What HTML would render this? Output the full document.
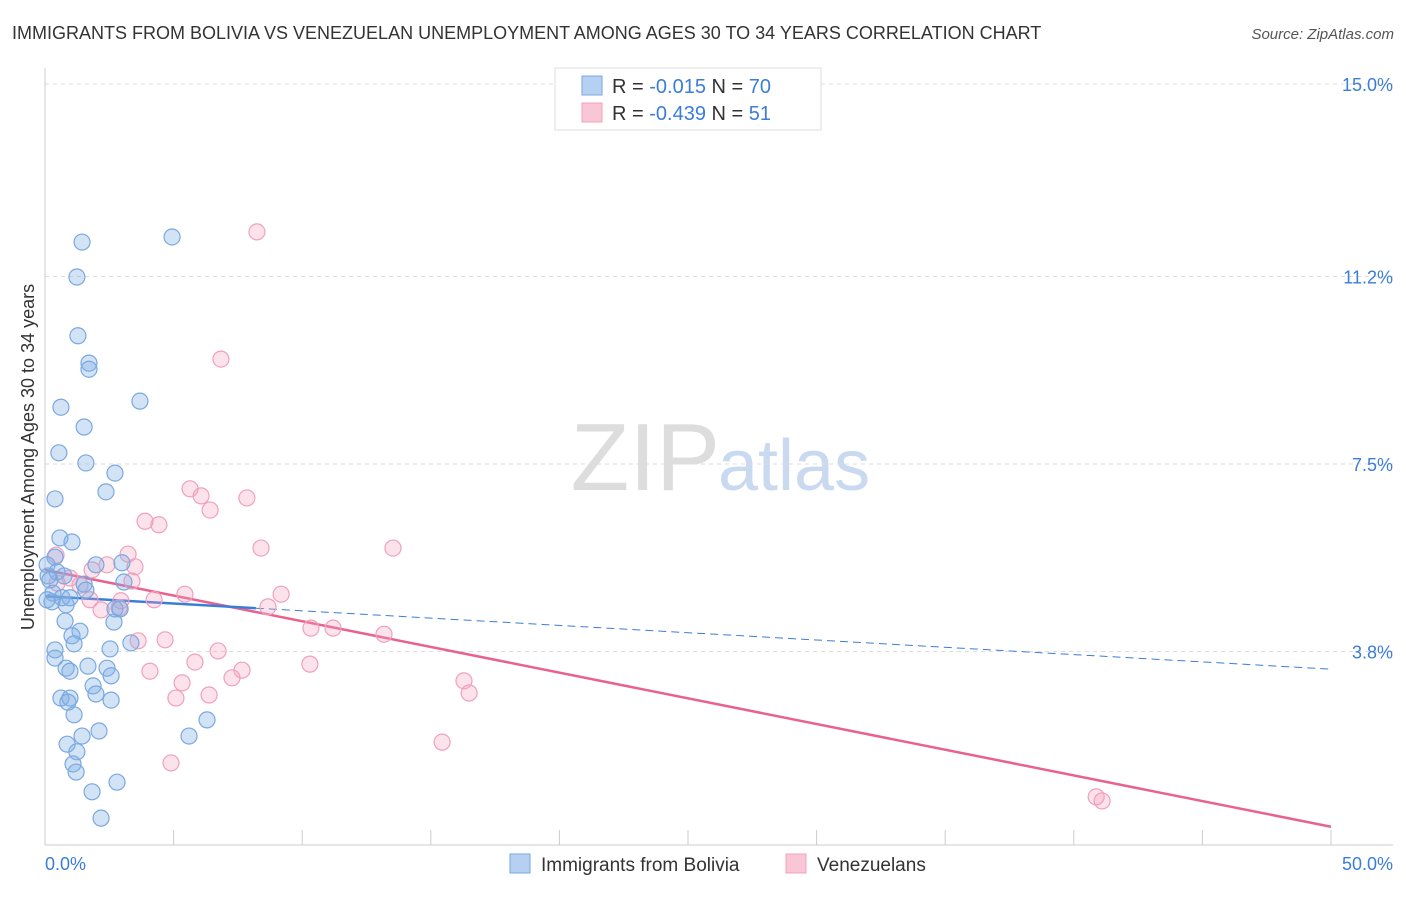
<!DOCTYPE html>
<html><head><meta charset="utf-8"><style>
body{margin:0;background:#fff;font-family:"Liberation Sans",sans-serif;}
svg text{font-family:"Liberation Sans",sans-serif;}
</style></head><body>
<svg id="chart" width="1406" height="892">
<text x="12" y="39" font-size="18" fill="#333">IMMIGRANTS FROM BOLIVIA VS VENEZUELAN UNEMPLOYMENT AMONG AGES 30 TO 34 YEARS CORRELATION CHART</text>
<text x="1394" y="39" font-size="15" fill="#555" font-style="italic" text-anchor="end">Source: ZipAtlas.com</text>
<text x="720" y="490" font-size="96" fill="#ddd" text-anchor="end" font-family="Liberation Serif">ZIP</text>
<text x="718" y="490" font-size="72" fill="#c9daf0">atlas</text>
<text transform="translate(34,457) rotate(-90)" font-size="18" fill="#333" text-anchor="middle">Unemployment Among Ages 30 to 34 years</text>
<g id="grid"></g><g id="axes"></g><g id="trend"></g><g id="pts"></g>
<g>
<rect x="555" y="68" width="266" height="62" fill="#fff" stroke="#ddd"/>
<rect x="582" y="76" width="20" height="19" fill="#b6d0f2" stroke="#7aa8e0"/>
<rect x="582" y="103" width="20" height="19" fill="#f9c6d6" stroke="#f0a0bc"/>
<text x="612" y="93" font-size="20" fill="#333">R = <tspan fill="#3b7dd8">-0.015</tspan>   N = <tspan fill="#3b7dd8">70</tspan></text>
<text x="612" y="120" font-size="20" fill="#333">R = <tspan fill="#3b7dd8">-0.439</tspan>   N = <tspan fill="#3b7dd8"> 51</tspan></text>
</g>
<g>
<rect x="510" y="854" width="20" height="19" fill="#b6d0f2" stroke="#7aa8e0"/>
<text x="541" y="871" font-size="19" fill="#333">Immigrants from Bolivia</text>
<rect x="786" y="854" width="20" height="19" fill="#f9c6d6" stroke="#f0a0bc"/>
<text x="817" y="871" font-size="19" fill="#333">Venezuelans</text>
</g>
</svg>
<script>
const yTicks=[15.0,11.2,7.5,3.8];
const yTickLabels=["15.0%","11.2%","7.5%","3.8%"];
const xTickLabels=["0.0%","50.0%"];
const blueX=[1.44,4.94,1.24,1.28,1.71,1.71,0.62,3.69,1.52,0.54,1.59,2.72,2.37,0.39,0.58,1.05,0.39,0.08,1.98,2.99,0.47,0.74,0.19,0.12,1.52,3.07,1.59,0.31,0.66,0.97,0.27,0.82,0.08,2.72,2.92,0.78,2.68,1.36,1.05,1.13,3.34,0.39,2.53,0.39,1.67,0.82,2.41,0.97,1.87,2.57,0.62,0.97,0.89,1.98,2.57,1.13,6.30,2.10,1.44,5.60,0.86,1.24,1.09,1.21,2.80,1.83,2.18];
const blueY=[11.88,11.98,11.19,10.03,9.49,9.37,8.62,8.74,8.23,7.72,7.52,7.32,6.95,6.81,6.04,5.96,5.66,5.51,5.51,5.55,5.37,5.29,5.21,5.29,5.13,5.17,5.01,4.95,4.86,4.86,4.78,4.72,4.82,4.64,4.64,4.40,4.38,4.20,4.11,3.95,3.97,3.83,3.85,3.67,3.51,3.47,3.47,3.41,3.12,3.32,2.88,2.88,2.80,2.96,2.84,2.55,2.45,2.23,2.13,2.13,1.97,1.82,1.58,1.42,1.22,1.03,0.51];
const pinkX=[8.24,6.84,5.64,6.07,6.42,7.85,3.89,4.43,3.23,8.40,13.53,0.43,1.83,2.41,3.50,3.38,0.97,0.47,1.36,5.44,9.18,4.24,2.95,1.75,2.88,2.18,8.67,10.34,11.20,13.18,3.62,4.67,6.73,5.83,10.30,4.08,7.66,7.27,5.33,16.29,16.49,5.09,6.38,15.44,4.90,40.87,41.10];
const pinkY=[12.08,9.57,7.01,6.87,6.59,6.83,6.37,6.30,5.72,5.84,5.84,5.70,5.41,5.51,5.47,5.19,5.25,5.15,5.11,4.93,4.93,4.82,4.80,4.82,4.66,4.62,4.68,4.26,4.26,4.14,4.01,4.03,3.81,3.59,3.55,3.41,3.43,3.28,3.18,3.22,2.98,2.88,2.94,2.01,1.60,0.93,0.85];
const blueTrend=[4.89,3.45];
const pinkTrend=[5.41,0.34];
const X0=45,X1=1331,Y0=844,PPY=50.67;
const sx=v=>X0+(v/50)*(X1-X0);
const sy=v=>Y0-v*PPY;
const NS="http://www.w3.org/2000/svg";
function mk(p,t,a){const e=document.createElementNS(NS,t);for(const k in a)e.setAttribute(k,a[k]);document.getElementById(p).appendChild(e);return e;}
yTicks.forEach((v,i)=>{
 const l=mk('grid','line',{x1:45,x2:1393,y1:sy(v),y2:sy(v),stroke:'#ddd','stroke-dasharray':'4,4'});
 
 
 const t=mk('grid','text',{x:1393,y:sy(v)+7,'font-size':18,fill:'#3b7dd8','text-anchor':'end'});
 t.textContent=yTickLabels[i];
 
 
});
const ax=mk('axes','line',{x1:45,x2:45,y1:68,y2:845,stroke:'#ccc'});


const bx=mk('axes','line',{x1:45,x2:1393,y1:845,y2:845,stroke:'#ccc'});


for(let i=0;i<=10;i++){
 const t=mk('axes','line',{x1:sx(i*5),x2:sx(i*5),y1:830,y2:845,stroke:'#ccc'});
 
 
}
[[0,'start',45],[1,'end',1393]].forEach(([i,a,x])=>{
 const t=mk('axes','text',{x:x,y:870,'font-size':18,fill:'#3b7dd8','text-anchor':a});
 t.textContent=xTickLabels[i];
 
 
});
function pts(xs,ys,fill,stroke,name){
 xs.forEach((x,i)=>{
  const c=mk('pts','circle',{cx:sx(x),cy:sy(ys[i]),r:8,fill:fill,stroke:stroke,'stroke-width':1.2});
  
  
 });
}
pts(pinkX,pinkY,'rgba(244,160,190,0.3)','#f0a0bc','venezuelans-point');
pts(blueX,blueY,'rgba(130,175,230,0.35)','#7aa8e0','bolivia-point');
const bAt=v=>blueTrend[0]+(blueTrend[1]-blueTrend[0])*v/50;
const pl=mk('trend','line',{x1:sx(0),y1:sy(pinkTrend[0]),x2:sx(50),y2:sy(pinkTrend[1]),stroke:'#e8628f','stroke-width':2.5});


const b1=mk('trend','line',{x1:sx(0),y1:sy(bAt(0)),x2:sx(8.2),y2:sy(bAt(8.2)),stroke:'#3b7dd8','stroke-width':2.5});


const b2=mk('trend','line',{x1:sx(8.2),y1:sy(bAt(8.2)),x2:sx(50),y2:sy(bAt(50)),stroke:'#3b7dd8','stroke-width':1,'stroke-dasharray':'8,5'});


</script>
</body></html>
